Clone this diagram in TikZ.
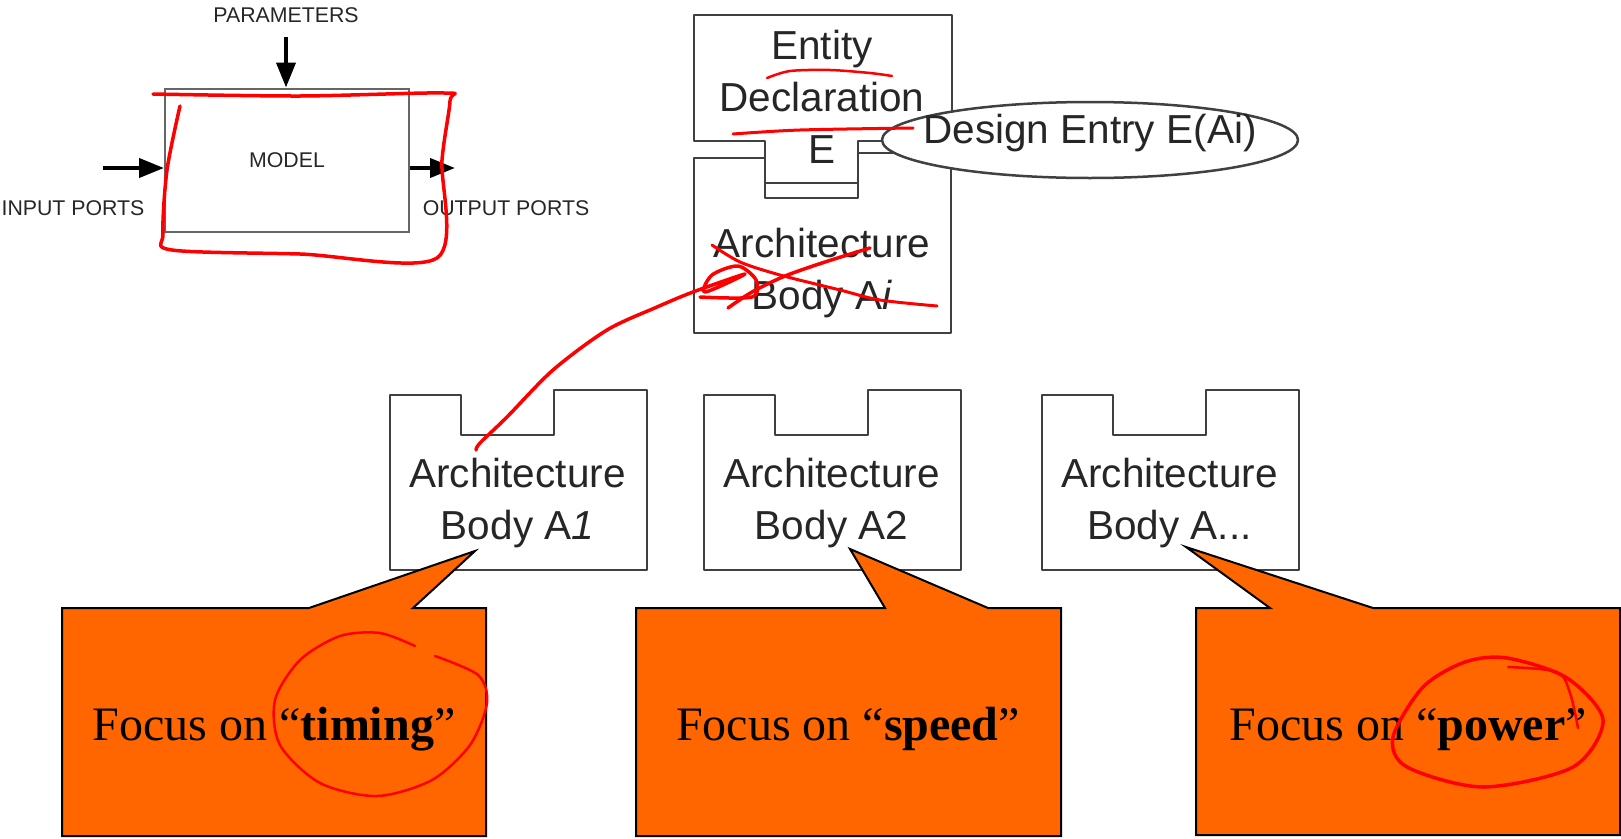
\documentclass[tikz,border=0pt]{standalone}
\usepackage{fontspec}
\setmainfont{Liberation Sans}
\newfontfamily\timesfont{Liberation Serif}
\usepackage{tikz}
\usetikzlibrary{positioning}
\usetikzlibrary{shapes.geometric}
\usetikzlibrary{arrows.meta}
\definecolor{linegray}{HTML}{404040}
\definecolor{callorange}{HTML}{FF6600}
\colorlet{inkred}{red}
\tikzset{
  >=latex,
  small/.style={font=\fontsize{21.3}{24}\selectfont, text=black!85, inner sep=0pt},
  big/.style={font=\fontsize{40.5}{52}\selectfont, text=black!85, align=center, inner sep=0pt},
  outline/.style={draw=linegray, line width=2.5pt, line join=round, fill=white},
  port/.style={-{Triangle[length=25pt, width=19pt]}, line width=4pt},
  callout/.style={draw=black, line width=2pt, fill=callorange},
  focus/.style={font=\timesfont\fontsize{48}{56}\selectfont, inner sep=0pt},
  ink/.style={draw=inkred, line width=3pt, line cap=round, line join=round},
  notched/.pic={
    \path[outline] (0,0) -- (71,0) -- (71,40) -- (164,40) -- (164,-5)
      -- (257,-5) -- (257,175) -- (0,175) -- cycle;
  }
}

\begin{document}
\begin{tikzpicture}[x=1pt, y=-1pt]
\useasboundingbox (0,0) rectangle (1621,838);

% Model and its ports
\node[small, draw=linegray!80, line width=2pt, minimum width=244pt, minimum height=143pt] (model) at (287,160) {MODEL};
\node[small, anchor=base] (params) at (286,22) {PARAMETERS};
\node[small, anchor=base] (inports) at (73,215) {INPUT PORTS};
\node[small, anchor=base] (outports) at (506,215) {OUTPUT PORTS};
\coordinate (param in) at (286,37);
\coordinate (in port) at (103,168);
\coordinate (out port) at (455,168);
\draw[port] (param in) -- (param in |- model.north);
\draw[port] (in port) -- (in port -| model.west);
\draw[port] (out port -| model.east) -- (out port);

% Entity declaration over architecture body Ai
\draw[outline] (694,15) -- (952,15) -- (952,141) -- (858,141) -- (858,183)
  -- (765,183) -- (765,141) -- (694,141) -- cycle;
\pic at (694,158) {notched};
\node[big] (entity) at (822,97) {Entity\\Declaration\\E};
\node[big] (body i) at (822,273) {Architecture\\Body A\textit{i}};

% Design entry
\node[outline, ellipse, minimum width=416pt, minimum height=76pt, inner sep=0pt] (entry) at (1090,140) {};
\node[big, anchor=base] (entry text) at ([yshift=-3pt]entry.center) {Design Entry E(Ai)};

% Architecture bodies
\foreach \x/\name/\lbl in {390/a1/A\textit{1}, 704/a2/A2, 1042/an/A{.}{.}{.}} {
  \pic at (\x,395) {notched};
  \node[big] (\name) at (\x+127.5,503) {Architecture\\Body \lbl};
}

% Callouts
\draw[callout] (62,608) -- (309,608) -- (475,551) -- (413,608) -- (486,608)
  -- (486,836) -- (62,836) -- cycle;
\draw[callout] (636,608) -- (885,608) -- (850,549) -- (988,608) -- (1061,608)
  -- (1061,836) -- (636,836) -- cycle;
\draw[callout] (1196,608) -- (1270,608) -- (1186,547) -- (1373,608) -- (1620,608)
  -- (1620,835) -- (1196,835) -- cycle;
\node[focus, anchor=base] (timing) at (274,740) {Focus on “\textbf{timing}”};
\node[focus, anchor=base] (speed) at (848,740) {Focus on “\textbf{speed}”};
\node[focus, anchor=base] (power) at (1408,740) {Focus on “\textbf{power}”};

% Red pen marks
\draw[ink, line width=3.5pt] plot[smooth] coordinates {(153,94) (300,96) (444,93) (450,101) (442,160)
  (437,258) (300,254) (172,250) (163,233) (167,170) (180,106)};
\draw[ink, line width=2.5pt] plot[smooth] coordinates {(767,78) (790,71) (830,70) (870,73) (892,76)};
\draw[ink] plot[smooth] coordinates {(733,134) (800,130) (913,128)};
\draw[ink] plot[smooth] coordinates {(712,245) (740,262) (780,275) (840,290) (880,300) (937,306)};
\draw[ink, line width=3.5pt] plot[smooth] coordinates {(728,308) (752,292) (785,276) (825,262) (870,248)};
\draw[ink, line width=3.5pt] plot[smooth] coordinates {(476,450) (480,443) (507,417) (553,370) (607,330)
  (657,307) (693,292) (745,274) (705,292) (712,275) (738,266) (756,280) (752,297) (700,297)};
\draw[ink, line width=2.5pt] plot[smooth] coordinates {(415,646) (380,633) (340,636) (300,660) (275,700) (280,745)
  (320,783) (377,796) (432,780) (470,745) (487,703) (478,675) (435,656)};
\draw[ink, line width=3.5pt] plot[smooth cycle] coordinates {(1507,658) (1567,678) (1603,720) (1573,767)
  (1483,787) (1407,767) (1393,737) (1423,687) (1465,662)};
\draw[ink, line width=2.5pt] plot[smooth] coordinates {(1508,667) (1557,672) (1570,693) (1578,728)};

\end{tikzpicture}
\end{document}
